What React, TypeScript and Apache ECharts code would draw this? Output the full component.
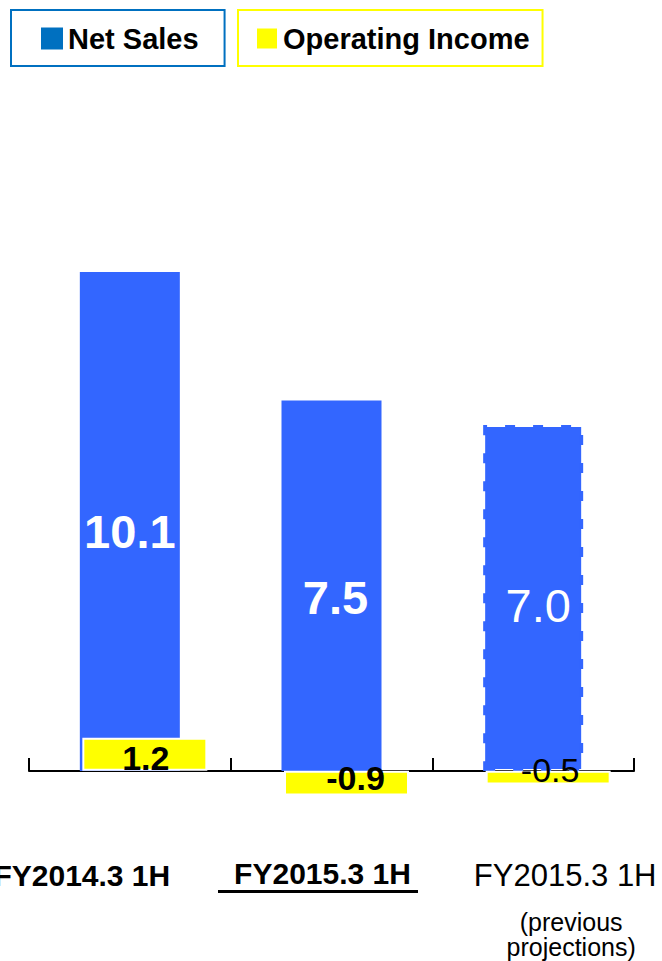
import React, { useEffect, useRef } from "react";
import * as echarts from "echarts";

// Half-year results: net sales and operating income (billions of yen)
const categories = ["FY2014.3 1H", "FY2015.3 1H", "FY2015.3 1H"];
const captionLines = ["(previous", "projections)"];
const netSales = [10.1, 7.5, 7.0];
const operatingIncome = [1.2, -0.9, -0.5];

const FONT = "'Liberation Sans', Arial, Helvetica, sans-serif";
const BLUE = "#3366FF";
const LEGEND_BLUE = "#0070C0";
const YELLOW = "#FFFF00";

export default function App() {
  const ref = useRef<HTMLDivElement>(null);

  useEffect(() => {
    if (!ref.current) return;
    const chart = echarts.init(ref.current, undefined, { renderer: "svg" });

    const nsData = netSales.map((v, i) => {
      const last = i === netSales.length - 1;
      return {
        value: v,
        itemStyle: last
          ? { borderType: [10, 18], borderColor: BLUE, borderWidth: 4 }
          : undefined,
        label: {
          fontWeight: last ? "normal" : "bold",
          offset: [[0, 10], [4, 12], [5, 7]][i],
        },
      };
    });

    const oiData = operatingIncome.map((v, i) => {
      const last = i === operatingIncome.length - 1;
      return {
        value: v,
        label: {
          fontWeight: last ? "normal" : "bold",
          offset: [[1, 4], [9, -5], [2, -8]][i],
        },
      };
    });

    chart.setOption({
      animation: false,
      backgroundColor: "#ffffff",
      textStyle: { fontFamily: FONT },
      legend: [
        {
          data: [{ name: "Net Sales", itemStyle: { color: LEGEND_BLUE } }],
          left: 11,
          top: 10,
          icon: "rect",
          itemWidth: 22,
          itemHeight: 22,
          borderColor: LEGEND_BLUE,
          borderWidth: 2,
          padding: [14, 26, 13, 30],
          selectedMode: false,
          textStyle: { fontSize: 29, fontWeight: "bold", color: "#000", fontFamily: FONT },
        },
        {
          data: [{ name: "Operating Income", itemStyle: { color: YELLOW } }],
          left: 238,
          top: 10,
          icon: "rect",
          itemWidth: 22,
          itemHeight: 22,
          borderColor: YELLOW,
          borderWidth: 2,
          padding: [14, 13, 13, 17],
          selectedMode: false,
          textStyle: { fontSize: 29, fontWeight: "bold", color: "#000", fontFamily: FONT },
        },
      ],
      grid: [
        // net sales: bottom edge is the zero line
        { left: 29, right: 28, top: 178, bottom: 190, outerBoundsMode: "none", containLabel: false },
        // operating income: shifted right, shares the same zero line
        { left: 44, right: 13, top: 178, bottom: 42, outerBoundsMode: "none", containLabel: false },
      ],
      xAxis: [
        {
          type: "category",
          gridIndex: 0,
          data: categories,
          axisLine: { lineStyle: { color: "#000", width: 2 } },
          axisTick: { show: true, inside: true, length: 13, lineStyle: { color: "#000", width: 2 } },
          axisLabel: {
            interval: 0,
            margin: 86,
            color: "#000",
            fontFamily: FONT,
            hideOverlap: false,
            formatter: (value: string, index: number) => {
              if (index === 0) return `{a|${value}}`;
              if (index === 1) return `{b|${value}}\n{u| }{sp| }`;
              return `{c|${value}}\n{gap| }\n` + captionLines.map((l) => `{d|${l}}`).join("\n");
            },
            rich: {
              a: { fontSize: 30, fontWeight: "bold", lineHeight: 36, padding: [0, 96, 0, 0], fontFamily: FONT, color: "#000" },
              b: { fontSize: 30, fontWeight: "bold", lineHeight: 33, padding: [0, 18, 0, 0], fontFamily: FONT, color: "#000" },
              u: { fontSize: 1, width: 200, height: 3, lineHeight: 3, backgroundColor: "#000" },
              sp: { fontSize: 1, width: 27, height: 3, lineHeight: 3 },
              c: { fontSize: 31, lineHeight: 36, padding: [0, 0, 0, 64], fontFamily: FONT, color: "#000" },
              gap: { fontSize: 1, lineHeight: 16 },
              d: { fontSize: 25, lineHeight: 25, padding: [0, 0, 0, 76], fontFamily: FONT, color: "#000" },
            },
          },
          splitLine: { show: false },
        },
        {
          type: "category",
          gridIndex: 1,
          data: categories,
          show: false,
        },
      ],
      yAxis: [
        { type: "value", gridIndex: 0, min: 0, max: 12, show: false, splitLine: { show: false } },
        { type: "value", gridIndex: 1, min: -5.4, max: 21.6, show: false, splitLine: { show: false } },
      ],
      series: [
        {
          name: "Net Sales",
          type: "bar",
          xAxisIndex: 0,
          yAxisIndex: 0,
          barWidth: 100,
          itemStyle: { color: BLUE },
          label: {
            show: true,
            position: "inside",
            color: "#fff",
            fontSize: 47,
            fontFamily: FONT,
            formatter: (p: any) => Number(p.value).toFixed(1),
          },
          data: nsData,
        },
        {
          name: "Operating Income",
          type: "bar",
          xAxisIndex: 1,
          yAxisIndex: 1,
          barWidth: 125,
          itemStyle: { color: YELLOW, borderColor: "#fff", borderWidth: 2 },
          label: {
            show: true,
            position: "inside",
            color: "#000",
            fontSize: 34,
            fontFamily: FONT,
            formatter: (p: any) => Number(p.value).toFixed(1),
          },
          data: oiData,
        },
      ],
    });

    return () => chart.dispose();
  }, []);

  return <div ref={ref} style={{ width: 662, height: 961, position: "absolute", left: 0, top: 0 }} />;
}
